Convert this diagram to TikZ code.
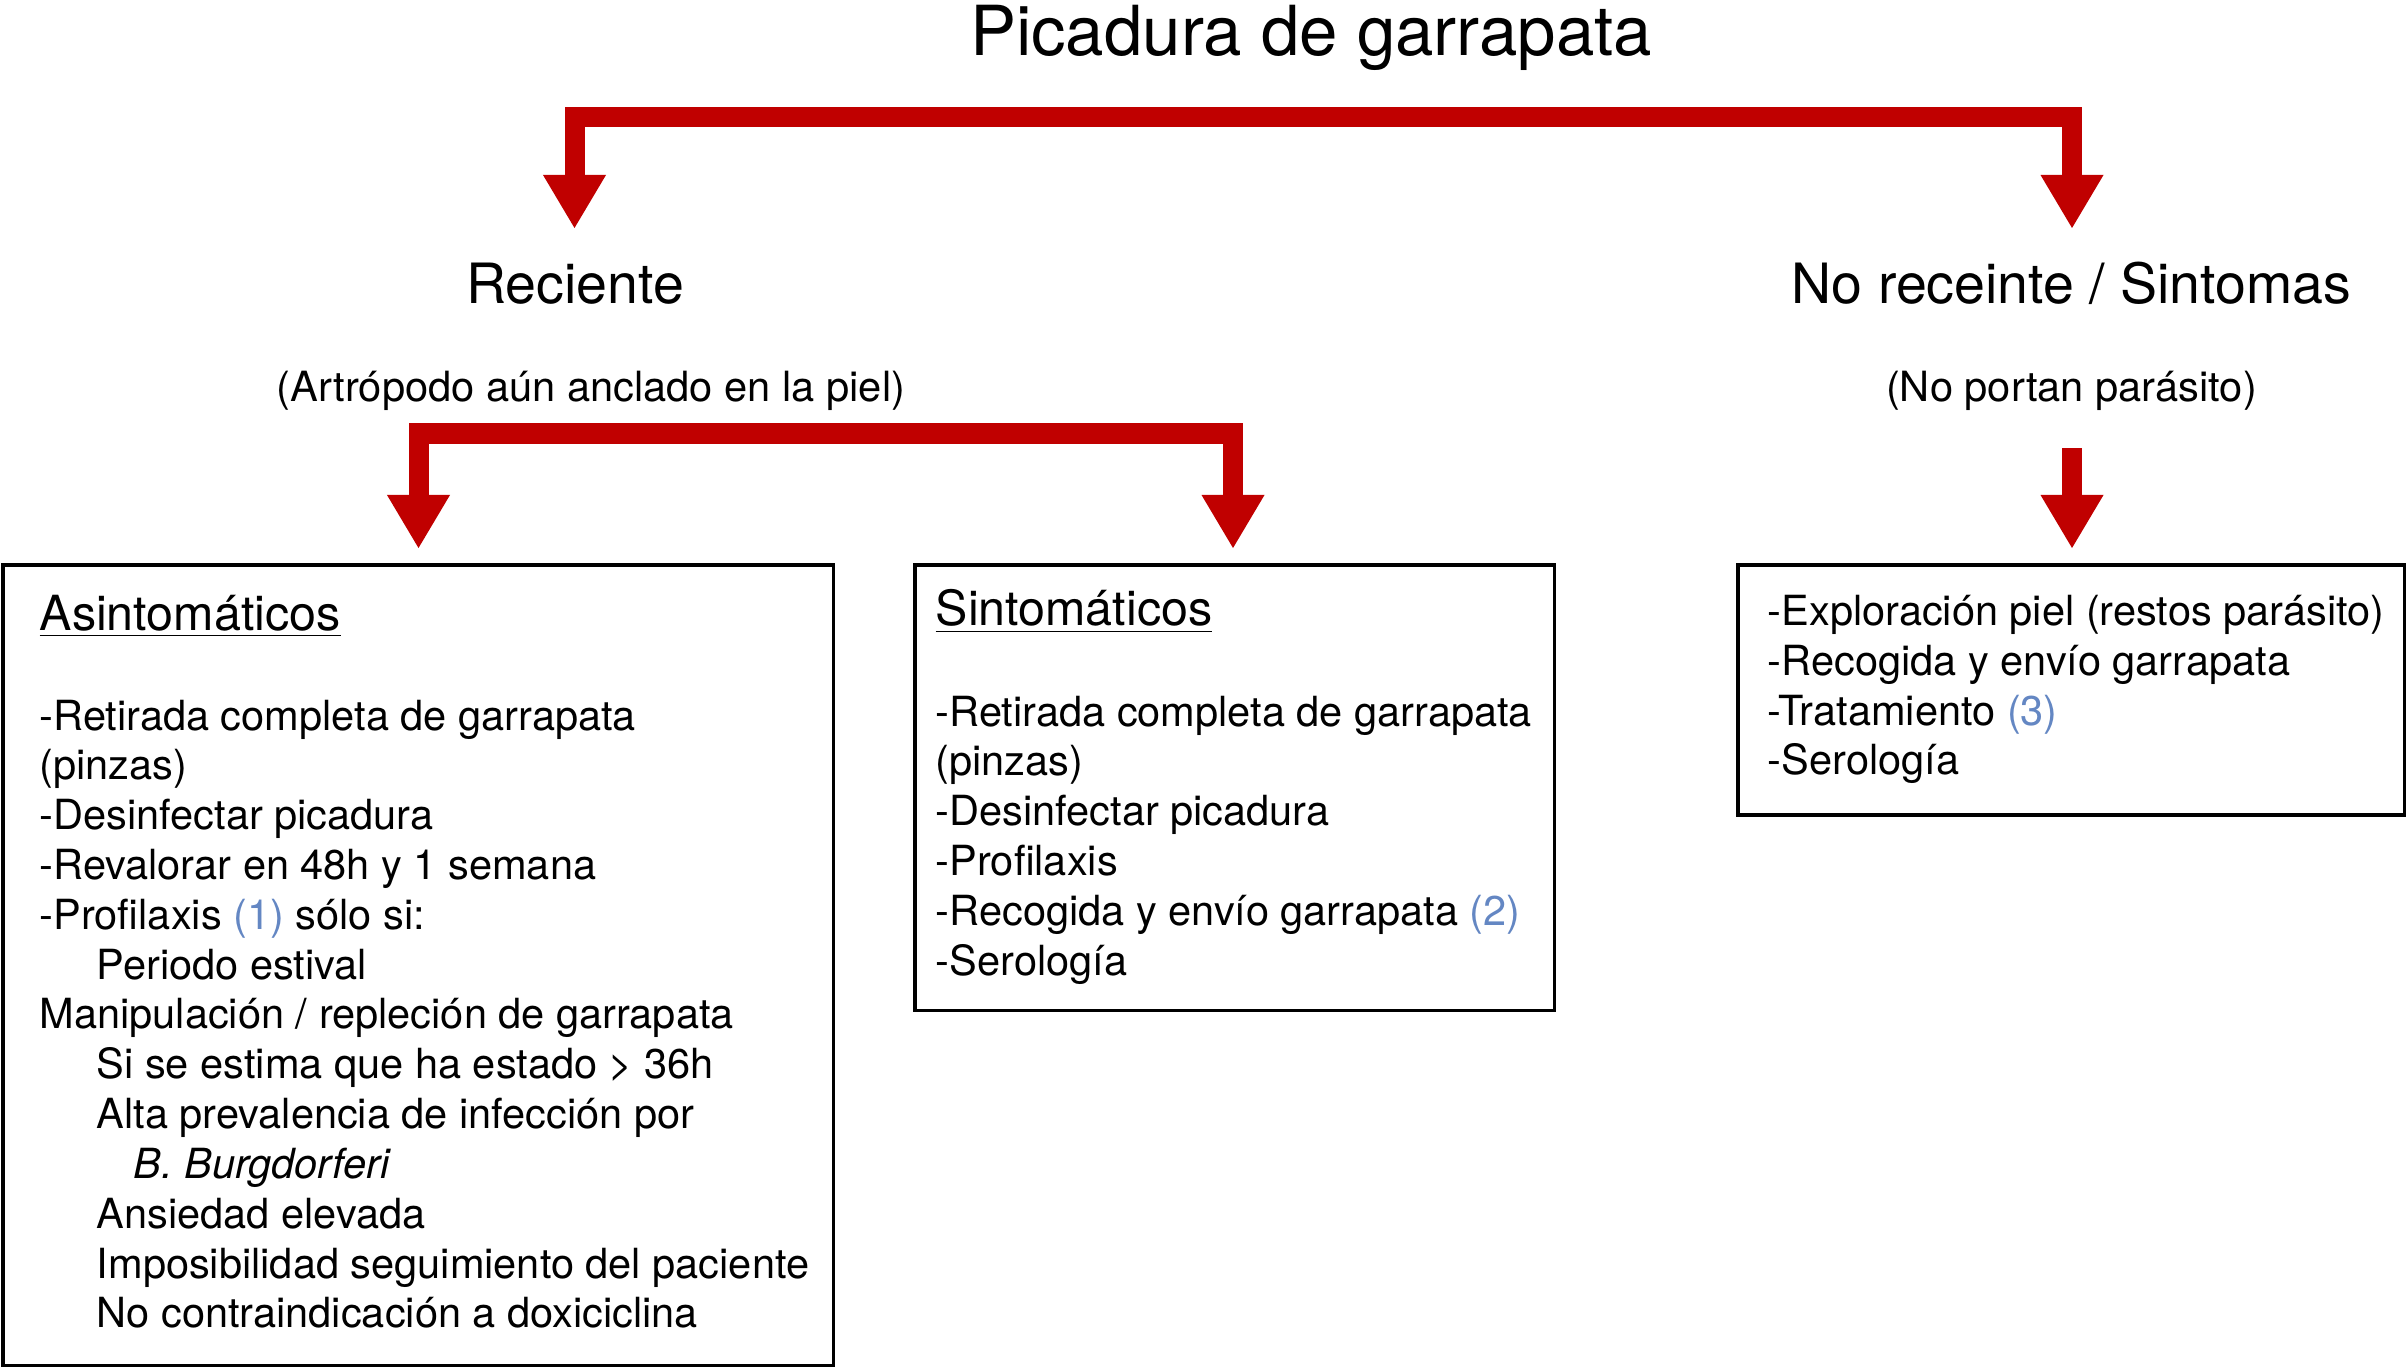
\documentclass[tikz,border=0pt]{standalone}
\usepackage{fontspec}
\setmainfont{TeX Gyre Heros}
\usetikzlibrary{arrows.meta}
\definecolor{arrowred}{RGB}{192,0,0}
\definecolor{numblue}{RGB}{100,135,195}
\newcommand{\myfs}[2]{\fontsize{#1}{#2}\selectfont}
\newcommand{\ind}{\hspace*{16.2pt}}
\newcommand{\indd}{\hspace*{26.7pt}}
\newcommand{\refn}[1]{\textcolor{numblue}{(#1)}}
\begin{document}
\begin{tikzpicture}[x=0.01cm,y=-0.01cm,
  bracket/.style={draw=arrowred, line width=0.2cm, line join=miter,
    {Triangle[width=0.63cm,length=0.53cm,line width=0pt]}-{Triangle[width=0.63cm,length=0.53cm,line width=0pt]}},
  single/.style={draw=arrowred, line width=0.2cm,
    -{Triangle[width=0.63cm,length=0.53cm,line width=0pt]}},
  boxline/.style={draw=black, line width=0.035cm, rectangle, inner sep=0pt, outer sep=0pt, anchor=north west},
  titletext/.style={anchor=base, inner sep=0pt, font=\myfs{19.63}{23.5}},
  lvltext/.style={anchor=base, inner sep=0pt, font=\myfs{15.79}{19}},
  subtext/.style={anchor=base, inner sep=0pt, font=\myfs{11.84}{14.2}},
  boxtitle/.style={anchor=base west, inner sep=0pt, font=\myfs{13.77}{16.5}},
  bodytext/.style={anchor=base west, inner sep=0pt, font=\myfs{11.81}{14.17}}
]
\fill[white] (0,0) rectangle (2407,1370);
\useasboundingbox (0,0) rectangle (2407,1370);

% headings
\node[titletext] (title) at (1311,56) {Picadura de garrapata};
\node[lvltext] (rec) at (575,304) {Reciente};
\node[lvltext] (norec) at (2071.5,304) {No receinte / Sintomas};
\node[subtext] (recsub) at (591,401) {(Artrópodo aún anclado en la piel)};
\node[subtext] (norecsub) at (2071.5,401) {(No portan parásito)};

% boxes
\node[boxline, minimum width=8.30cm, minimum height=8.00cm] (asym) at (3,565) {};
\node[boxline, minimum width=6.39cm, minimum height=4.45cm] (sym) at (915,565) {};
\node[boxline, minimum width=6.66cm, minimum height=2.50cm] (late) at (1738,565) {};

% box contents
\node[boxtitle] (asymtitle) at (39,630) {\underline{Asintomáticos}};
\node[bodytext] (asymbody) at (39,730) {\parbox[t]{7.9cm}{%
-Retirada completa de garrapata\\
(pinzas)\\
-Desinfectar picadura\\
-Revalorar en 48h y 1 semana\\
-Profilaxis \refn{1} sólo si:\\
\ind Periodo estival\\
Manipulación / repleción de garrapata\\
\ind Si se estima que ha estado > 36h\\
\ind Alta prevalencia de infección por\\
\indd\textit{B. Burgdorferi}\\
\ind Ansiedad elevada\\
\ind Imposibilidad seguimiento del paciente\\
\ind No contraindicación a doxiciclina}};

\node[boxtitle] (symtitle) at (935,625.5) {\underline{Sintomáticos}};
\node[bodytext] (symbody) at (935,726) {\parbox[t]{6.2cm}{%
-Retirada completa de garrapata\\
(pinzas)\\
-Desinfectar picadura\\
-Profilaxis\\
-Recogida y envío garrapata \refn{2}\\
-Serología}};

\node[bodytext] (latebody) at (1767,625.5) {\parbox[t]{6.4cm}{%
-Exploración piel (restos parásito)\\
-Recogida y envío garrapata\\
-Tratamiento \refn{3}\\
-Serología}};

% arrows
\coordinate (tA) at (574.5,228);
\coordinate (cA) at (574.5,117);
\coordinate (cB) at (2072,117);
\coordinate (tB) at (2072,228);
\draw[bracket] (tA) -- (cA) -- (cB) -- (tB);

\coordinate (tC) at (418.5,548);
\coordinate (cC) at (418.5,433.5);
\coordinate (cD) at (1233,433.5);
\coordinate (tD) at (1233,548);
\draw[bracket] (tC) -- (cC) -- (cD) -- (tD);

\coordinate (sE) at (2072,448);
\coordinate (tE) at (2072,548);
\draw[single] (sE) -- (tE);
\end{tikzpicture}
\end{document}
